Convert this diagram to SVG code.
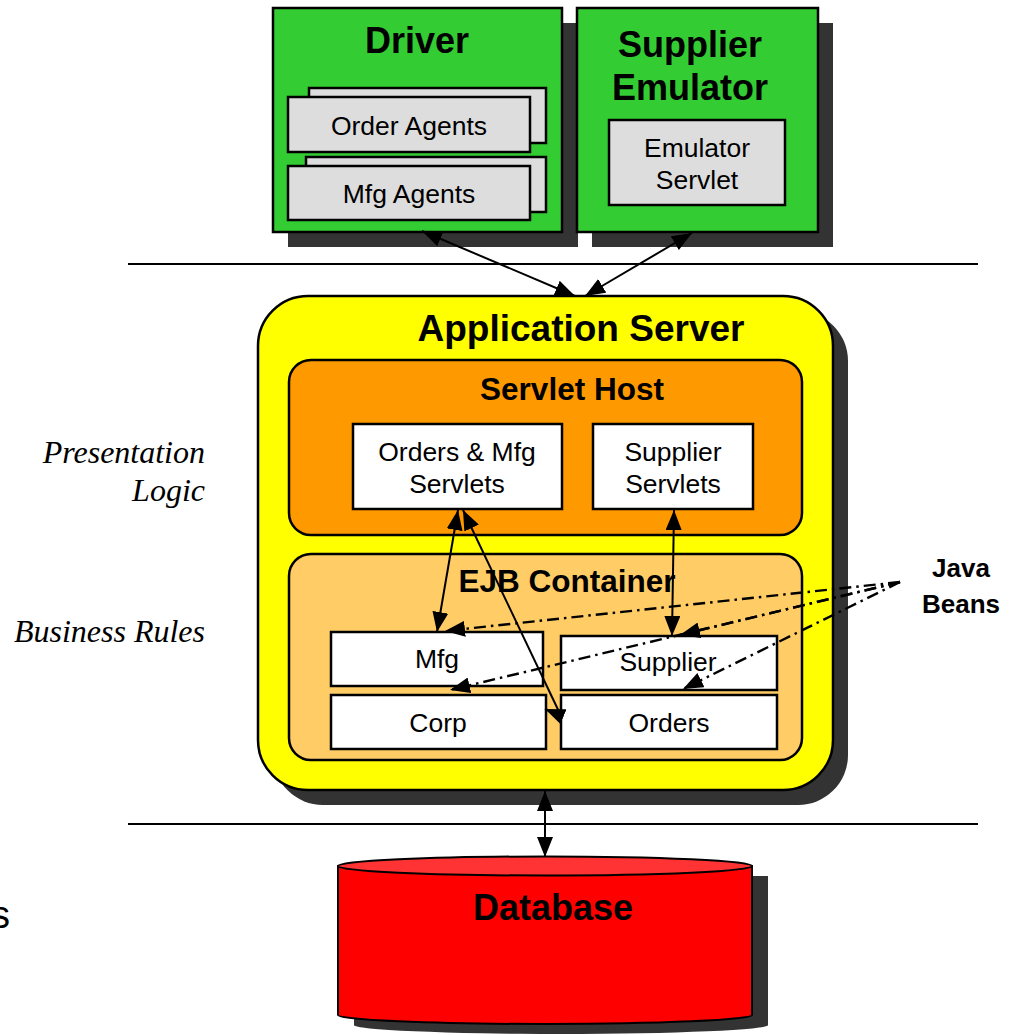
<svg xmlns="http://www.w3.org/2000/svg" width="1013" height="1035" viewBox="0 0 1013 1035">
<style>
.t{font-family:"Liberation Sans",Arial,sans-serif;fill:#000;text-anchor:middle}
.b{font-weight:bold}
.i{font-family:"Liberation Serif","Times New Roman",serif;font-style:italic;font-size:32px;text-anchor:end;fill:#000}
.box{stroke:#000;stroke-width:2.5}
.sh{fill:#333333}
.ln{stroke:#000;stroke-width:2;fill:none}
.dd{stroke:#000;stroke-width:2.4;fill:none;stroke-dasharray:12 5 2.5 5}
.s25{font-size:26.5px}
</style>
<defs>
<marker id="a" viewBox="0 0 20 16" refX="20" refY="8" markerWidth="20" markerHeight="16" markerUnits="userSpaceOnUse" orient="auto-start-reverse">
<path d="M0,0 L20,8 L0,16 Z" fill="#000"/>
</marker>
</defs>
<rect width="1013" height="1035" fill="#fff"/>

<g id="separators">
<line x1="128" y1="264" x2="978" y2="264" class="ln"/>
<line x1="128" y1="824" x2="978" y2="824" class="ln"/>
</g>

<g id="labels">
<text class="i" x="205" y="463">Presentation</text>
<text class="i" x="205" y="501">Logic</text>
<text class="i" x="205" y="642">Business Rules</text>
<text class="t b" x="961" y="577" style="font-size:26px">Java</text>
<text class="t b" x="961" y="613" style="font-size:26px">Beans</text>
<text class="t" x="-9" y="928" style="font-size:38px;text-anchor:start">s</text>
</g>

<g id="driver">
<rect class="sh" x="288" y="23" width="290" height="224"/>
<rect class="box" x="273" y="8" width="289" height="224" fill="#33CC33"/>
<text class="t b" x="417" y="53" style="font-size:36px">Driver</text>
</g>
<g id="order-agents">
<rect class="box" x="309" y="88" width="237" height="55" fill="#DDDDDD"/>
<rect class="box" x="288" y="97" width="242" height="55" fill="#DDDDDD"/>
<text class="t s25" x="409" y="135">Order Agents</text>
</g>
<g id="mfg-agents">
<rect class="box" x="306" y="157" width="240" height="55" fill="#DDDDDD"/>
<rect class="box" x="288" y="166" width="242" height="54" fill="#DDDDDD"/>
<text class="t s25" x="409" y="203">Mfg Agents</text>
</g>

<g id="supplier-emulator">
<rect class="sh" x="592" y="23" width="241" height="224"/>
<rect class="box" x="577" y="8" width="241" height="224" fill="#33CC33"/>
<text class="t b" x="690" y="57" style="font-size:36px">Supplier</text>
<text class="t b" x="690" y="100" style="font-size:36px">Emulator</text>
</g>
<g id="emulator-servlet">
<rect class="box" x="609" y="120" width="176" height="85" fill="#DDDDDD"/>
<text class="t s25" x="697" y="157">Emulator</text>
<text class="t s25" x="697" y="189">Servlet</text>
</g>

<g id="application-server">
<rect class="sh" x="273" y="311" width="575" height="494" rx="50"/>
<rect class="box" x="258" y="296" width="575" height="494" rx="50" fill="#FFFF00"/>
<text class="t b" x="581" y="341" style="font-size:37px">Application Server</text>
</g>

<g id="servlet-host">
<rect class="box" x="289" y="360" width="513" height="175" rx="22" fill="#FF9900"/>
<text class="t b" x="572" y="400" style="font-size:31.5px">Servlet Host</text>
</g>
<g id="orders-mfg-servlets">
<rect class="box" x="353" y="424" width="209" height="85" fill="#FFFFFF"/>
<text class="t s25" x="457" y="461">Orders &amp; Mfg</text>
<text class="t s25" x="457" y="493">Servlets</text>
</g>
<g id="supplier-servlets">
<rect class="box" x="593" y="424" width="160" height="85" fill="#FFFFFF"/>
<text class="t s25" x="673" y="461">Supplier</text>
<text class="t s25" x="673" y="493">Servlets</text>
</g>

<g id="ejb-container">
<rect class="box" x="289" y="554" width="513" height="206" rx="22" fill="#FFCC66"/>
<text class="t b" x="567" y="592" style="font-size:31.5px">EJB Container</text>
</g>
<g id="mfg">
<rect class="box" x="331" y="632" width="212" height="54" fill="#FFFFFF"/>
<text class="t s25" x="437" y="668">Mfg</text>
</g>
<g id="supplier">
<rect class="box" x="561" y="636" width="216" height="54" fill="#FFFFFF"/>
<text class="t s25" x="668" y="671">Supplier</text>
</g>
<g id="corp">
<rect class="box" x="331" y="695" width="215" height="54" fill="#FFFFFF"/>
<text class="t s25" x="438" y="732">Corp</text>
</g>
<g id="orders">
<rect class="box" x="561" y="695" width="216" height="54" fill="#FFFFFF"/>
<text class="t s25" x="669" y="732">Orders</text>
</g>

<g id="database">
<path class="sh" d="M354,876 L354,1025 A207,9 0 0 0 768,1025 L768,876 Z"/>
<path d="M338,866 L338,1015 A207,9 0 0 0 752,1015 L752,866 Z" fill="#FF0000" stroke="#000" stroke-width="2"/>
<ellipse cx="545" cy="866" rx="207" ry="9.5" fill="#FF3333" stroke="#000" stroke-width="2"/>
<text class="t b" x="553" y="920" style="font-size:36px">Database</text>
</g>

<g id="connectors">
<line class="ln" x1="422" y1="231" x2="575" y2="296" marker-start="url(#a)" marker-end="url(#a)"/>
<line class="ln" x1="692" y1="233" x2="585" y2="296" marker-start="url(#a)" marker-end="url(#a)"/>
<line class="ln" x1="458" y1="510" x2="437" y2="632" marker-start="url(#a)" marker-end="url(#a)"/>
<line class="ln" x1="463" y1="510" x2="562" y2="718" marker-start="url(#a)"/>
<line class="ln" x1="562" y1="716" x2="545" y2="709" marker-end="url(#a)"/>
<line class="ln" x1="674" y1="510" x2="672" y2="636" marker-start="url(#a)" marker-end="url(#a)"/>
<line class="ln" x1="545" y1="791" x2="545" y2="857" marker-start="url(#a)" marker-end="url(#a)"/>
<line class="dd" x1="900" y1="582" x2="445" y2="631" marker-end="url(#a)"/>
<line class="dd" x1="900" y1="582" x2="680" y2="635" marker-end="url(#a)"/>
<line class="dd" x1="900" y1="582" x2="450" y2="690" marker-end="url(#a)"/>
<line class="dd" x1="900" y1="582" x2="683" y2="689" marker-end="url(#a)"/>
</g>
</svg>
